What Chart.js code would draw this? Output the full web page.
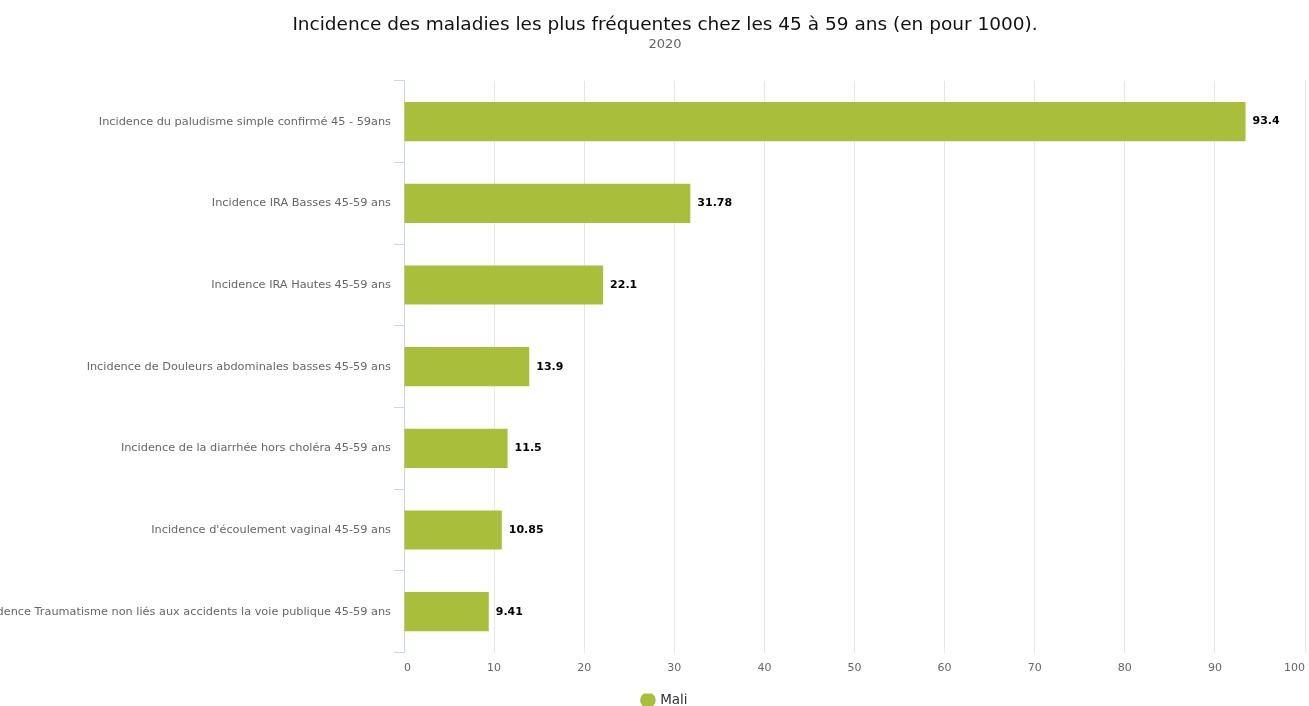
<!DOCTYPE html>
<html lang="fr">
<head>
<meta charset="UTF-8">
<title>Incidence des maladies 45-59 ans</title>
<script src="https://cdn.jsdelivr.net/npm/chart.js"></script>
<style>
	html, body { margin: 0; padding: 0; background: #fff; }
	#wrap { width: 1309px; height: 706px; position: relative; }
</style>
</head>
<body>
<div id="wrap"><canvas id="chart"></canvas></div>
<script>
	// data
	const categories = [
		'Incidence du paludisme simple confirmé 45 - 59ans',
		'Incidence IRA Basses 45-59 ans',
		'Incidence IRA Hautes 45-59 ans',
		'Incidence de Douleurs abdominales basses 45-59 ans',
		'Incidence de la diarrhée hors choléra 45-59 ans',
		"Incidence d'écoulement vaginal 45-59 ans",
		'Incidence Traumatisme non liés aux accidents la voie publique 45-59 ans'
	];
	const maliValues = [93.4, 31.78, 22.1, 13.9, 11.5, 10.85, 9.41];
	const xTicks = [0, 10, 20, 30, 40, 50, 60, 70, 80, 90, 100];

	const FONT = '"DejaVu Sans", sans-serif';
	const GREEN = '#a9be3b';

	// value labels at the end of each bar
	const valueLabels = {
		id: 'valueLabels',
		afterLayout(chart) {
			// let the long category labels run to the canvas edge (they get cut there)
			chart.scales.y.left = 0;
		},
		afterDatasetsDraw(chart) {
			const ctx = chart.ctx;
			const meta = chart.getDatasetMeta(0);
			ctx.save();
			ctx.font = 'bold 11px ' + FONT;
			ctx.textAlign = 'left';
			ctx.textBaseline = 'middle';
			ctx.lineJoin = 'round';
			meta.data.forEach((bar, i) => {
				const txt = String(chart.data.datasets[0].data[i]);
				ctx.strokeStyle = '#fff';
				ctx.lineWidth = 2;
				ctx.strokeText(txt, bar.x + 7, bar.y);
				ctx.fillStyle = '#000';
				ctx.fillText(txt, bar.x + 7, bar.y);
			});
			ctx.restore();
		}
	};

	new Chart(document.getElementById('chart'), {
		type: 'bar',
		data: {
			labels: categories,
			datasets: [{
				label: 'Mali',
				data: maliValues,
				backgroundColor: GREEN,
				borderWidth: 0,
				barPercentage: 0.48,
				categoryPercentage: 1
			}]
		},
		options: {
			indexAxis: 'y',
			responsive: true,
			maintainAspectRatio: false,
			animation: false,
			layout: { padding: { left: 25, right: 4, top: 0, bottom: -11 } },
			scales: {
				x: {
					min: 0,
					max: 100,
					afterBuildTicks: (scale) => { scale.ticks = xTicks.map(v => ({ value: v })); },
					afterFit: (scale) => {
						scale.paddingLeft = 0;
						scale.paddingRight = 0;
						scale.height = 41;
					},
					grid: { color: '#e6e6e6', drawTicks: false },
					border: { display: false },
					ticks: {
						align: 'inner',
						padding: 9,
						color: '#666666',
						font: { family: FONT, size: 11 }
					}
				},
				y: {
					afterFit: (scale) => { scale.width = 379; },
					grid: {
						drawOnChartArea: false,
						color: '#ccd6eb',
						tickLength: 10,
						offset: true
					},
					border: { display: true, color: '#ccd6eb', width: 1 },
					ticks: {
						padding: 3,
						autoSkip: false,
						color: '#666666',
						font: { family: FONT, size: 11.3 }
					}
				}
			},
			plugins: {
				title: {
					display: true,
					text: 'Incidence des maladies les plus fréquentes chez les 45 à 59 ans (en pour 1000).',
					color: '#111111',
					font: { family: FONT, size: 18.5, weight: 'normal' },
					padding: { top: 14, bottom: 0 }
				},
				subtitle: {
					display: true,
					text: '2020',
					color: '#666666',
					font: { family: FONT, size: 13 },
					padding: { top: 1, bottom: 28 }
				},
				legend: {
					position: 'bottom',
					labels: {
						usePointStyle: true,
						pointStyle: 'circle',
						boxWidth: 11,
						boxHeight: 11,
						color: '#333333',
						padding: 0,
						font: { family: FONT, size: 13.5 }
					}
				},
				tooltip: { enabled: false }
			}
		},
		plugins: [valueLabels]
	});
</script>
</body>
</html>
